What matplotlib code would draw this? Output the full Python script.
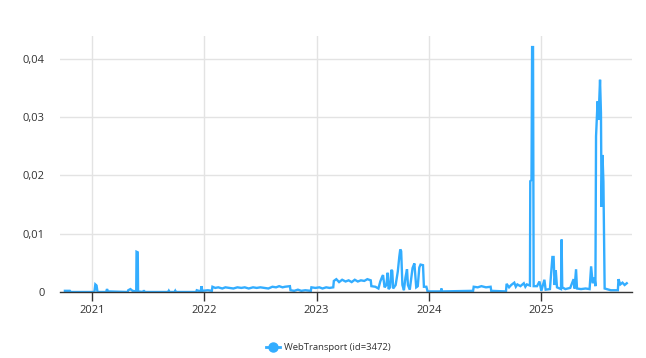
import matplotlib.pyplot as plt
import matplotlib.dates as mdates
from matplotlib.lines import Line2D
from matplotlib.ticker import FuncFormatter
import pandas as pd

# Usage share of the feature over time
dates = [
    '2020-10-04', '2020-10-20', '2020-10-23', '2021-01-08', '2021-01-11', '2021-01-15', '2021-01-18',
    '2021-02-15', '2021-02-18', '2021-02-21', '2021-04-26', '2021-04-28', '2021-05-05', '2021-05-12',
    '2021-05-24', '2021-05-25', '2021-05-29', '2021-05-30', '2021-06-16', '2021-06-18', '2021-06-20',
    '2021-09-05', '2021-09-07', '2021-09-09', '2021-09-26', '2021-09-28', '2021-09-30',
    '2021-12-05', '2021-12-07', '2021-12-20', '2021-12-22', '2021-12-25', '2022-01-12', '2022-01-25',
    '2022-01-27', '2022-02-05', '2022-02-15', '2022-02-28', '2022-03-10', '2022-03-22', '2022-04-05',
    '2022-04-18', '2022-05-01', '2022-05-12', '2022-05-25', '2022-06-08', '2022-06-20', '2022-07-02',
    '2022-07-15', '2022-07-28', '2022-08-10', '2022-08-22', '2022-09-01', '2022-09-12', '2022-09-20',
    '2022-10-06', '2022-10-08', '2022-10-20', '2022-11-01', '2022-11-12', '2022-11-25', '2022-12-13',
    '2022-12-15', '2022-12-28', '2023-01-10', '2023-01-20', '2023-02-01', '2023-02-12', '2023-02-24',
    '2023-02-26', '2023-03-06', '2023-03-15', '2023-03-25', '2023-04-05', '2023-04-15', '2023-04-25',
    '2023-05-05', '2023-05-15', '2023-05-25', '2023-06-05', '2023-06-15', '2023-06-26', '2023-06-28',
    '2023-07-11', '2023-07-21', '2023-07-27', '2023-08-02', '2023-08-05', '2023-08-10', '2023-08-16',
    '2023-08-20', '2023-08-23', '2023-08-28', '2023-09-01', '2023-09-04', '2023-09-07', '2023-09-15',
    '2023-09-22', '2023-09-27', '2023-09-30', '2023-10-03', '2023-10-07', '2023-10-12', '2023-10-17',
    '2023-10-22', '2023-10-25', '2023-10-31', '2023-11-09', '2023-11-15', '2023-11-21', '2023-11-26',
    '2023-12-01', '2023-12-05', '2023-12-13', '2023-12-16', '2023-12-24', '2023-12-28',
    '2024-02-09', '2024-02-11', '2024-02-13', '2024-05-24', '2024-05-26', '2024-06-08', '2024-06-20',
    '2024-07-05', '2024-07-20', '2024-07-22', '2024-09-08', '2024-09-10', '2024-09-18', '2024-09-25',
    '2024-10-05', '2024-10-10', '2024-10-15', '2024-10-25', '2024-11-05', '2024-11-10', '2024-11-15',
    '2024-11-25', '2024-11-26', '2024-11-30', '2024-12-02', '2024-12-05', '2024-12-07', '2024-12-18',
    '2024-12-26', '2025-01-01', '2025-01-11', '2025-01-15', '2025-01-29', '2025-02-06', '2025-02-10',
    '2025-02-13', '2025-02-17', '2025-02-21', '2025-03-06', '2025-03-08', '2025-03-10', '2025-03-20',
    '2025-04-05', '2025-04-16', '2025-04-19', '2025-04-24', '2025-04-27', '2025-05-10', '2025-05-25',
    '2025-06-07', '2025-06-12', '2025-06-17', '2025-06-23', '2025-06-26', '2025-06-28', '2025-07-03',
    '2025-07-06', '2025-07-11', '2025-07-14', '2025-07-16', '2025-07-19', '2025-07-22', '2025-07-26',
    '2025-08-15', '2025-09-07', '2025-09-09', '2025-09-15', '2025-09-22', '2025-09-29', '2025-10-06',
]
values = [
    0.0002, 0.0002, 0.0, 0.0, 0.0013, 0.0011, 0.0,
    0.0, 0.0005, 0.0001, 0.0, 0.0003, 0.0005, 0.0002,
    0.0001, 0.0069, 0.0068, 0.0001, 0.0, 0.0003, 0.0,
    0.0, 0.0002, 0.0, 0.0, 0.0002, 0.0,
    0.0, 0.0003, 0.0001, 0.0010, 0.0002, 0.0003, 0.0002,
    0.0009, 0.0007, 0.0008, 0.0006, 0.0008, 0.0007, 0.0006,
    0.0008, 0.0007, 0.0008, 0.0006, 0.0008, 0.0007, 0.0008,
    0.0007, 0.0006, 0.0009, 0.0008, 0.0010, 0.0008, 0.0009,
    0.0010, 0.0003, 0.0002, 0.0004, 0.0002, 0.0003, 0.0002,
    0.0008, 0.0007, 0.0008, 0.0006, 0.0008, 0.0007, 0.0008,
    0.0019, 0.0022, 0.0017, 0.0021, 0.0018, 0.0020, 0.0017,
    0.0021, 0.0018, 0.0020, 0.0019, 0.0022, 0.0020, 0.0010,
    0.0009, 0.0006, 0.0018, 0.0026, 0.0029, 0.0008, 0.0012,
    0.0033, 0.0005, 0.0008, 0.0038, 0.0036, 0.0006, 0.0012,
    0.0035, 0.0061, 0.0073, 0.0070, 0.0012, 0.0003, 0.0025,
    0.0039, 0.0012, 0.0004, 0.0041, 0.0049, 0.0008, 0.0010,
    0.0042, 0.0047, 0.0046, 0.0009, 0.0009, 0.0001,
    0.0001, 0.0006, 0.0001, 0.0002, 0.0009, 0.0008, 0.0010,
    0.0008, 0.0009, 0.0002, 0.0001, 0.0014, 0.0008, 0.0012,
    0.0016, 0.0009, 0.0013, 0.0010, 0.0015, 0.0009, 0.0013,
    0.0011, 0.0190, 0.0192, 0.0420, 0.0420, 0.0010, 0.0010,
    0.0018, 0.0002, 0.0021, 0.0004, 0.0005, 0.0060, 0.0060,
    0.0012, 0.0037, 0.0008, 0.0005, 0.0090, 0.0008, 0.0005,
    0.0007, 0.0022, 0.0006, 0.0039, 0.0006, 0.0005, 0.0006,
    0.0005, 0.0044, 0.0015, 0.0025, 0.0010, 0.0267, 0.0327,
    0.0295, 0.0364, 0.0307, 0.0146, 0.0235, 0.0189, 0.0006,
    0.0003, 0.0003, 0.0022, 0.0013, 0.0016, 0.0012, 0.0015,
]
series_label = 'WebTransport (id=3472)'
years = ['2021', '2022', '2023', '2024', '2025']
y_ticks = [0, 0.01, 0.02, 0.03, 0.04]

line_color = '#33adff'
plt.rcParams['font.family'] = ['Open Sans', 'DejaVu Sans']

fig = plt.figure(figsize=(6.46, 3.58), dpi=100)
ax = fig.add_axes([60 / 646, 66 / 358, 572 / 646, 256 / 358])

x = pd.to_datetime(dates)
ax.plot(x, values, color=line_color, lw=1.7, solid_joinstyle='miter')

ax.set_xlim(pd.Timestamp('2020-09-18'), pd.Timestamp('2025-10-23'))
ax.set_ylim(0, 0.0439)

ax.set_xticks(pd.to_datetime([y + '-01-01' for y in years]))
ax.xaxis.set_major_formatter(mdates.DateFormatter('%Y'))
ax.set_yticks(y_ticks)
ax.yaxis.set_major_formatter(FuncFormatter(lambda v, p: '0' if v == 0 else f'{v:.2f}'.replace('.', ',')))

ax.grid(True, color='#e3e3e3', lw=1)
ax.set_axisbelow(True)
for s in ['top', 'right', 'left']:
    ax.spines[s].set_visible(False)
ax.spines['bottom'].set_color('#333333')
ax.spines['bottom'].set_linewidth(1)

ax.tick_params(axis='x', length=6.5, width=1, color='#333333', labelsize=8, labelcolor='#333333', pad=3)
ax.tick_params(axis='y', length=0, labelsize=8, labelcolor='#333333', pad=11)

handle = Line2D([], [], color=line_color, lw=2, marker='o', markersize=6.5)
fig.legend([handle], [series_label], loc='center', bbox_to_anchor=(328 / 646, 1 - 348 / 358),
           frameon=False, fontsize=6.8, handlelength=1.5, handletextpad=0.4, labelcolor='#333333')

plt.savefig('out.png', dpi=100)
